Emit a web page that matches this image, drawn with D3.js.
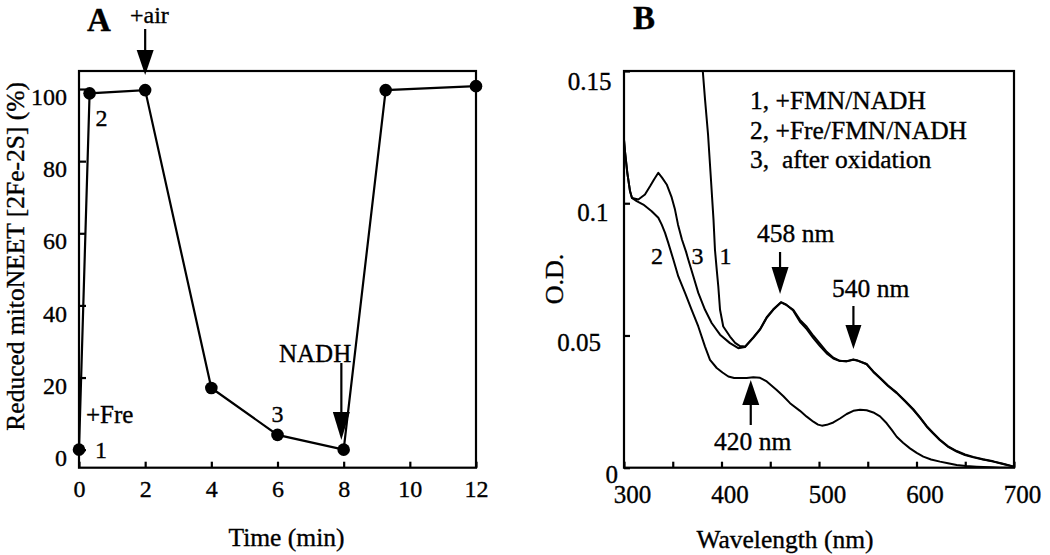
<!DOCTYPE html>
<html><head><meta charset="utf-8">
<script src="https://cdn.jsdelivr.net/npm/d3@7"></script>
<style>
html,body{margin:0;padding:0;background:#fff;}
svg{display:block;}
svg text{font-family:"Liberation Serif","Times New Roman",serif !important;fill:#000;stroke:#000;stroke-width:0.35px;}
</style></head>
<body>
<script>
// ---------- Panel A data ----------
const timeMin = [0, 0.32, 2, 4, 6, 8, 9.27, 12];
const reducedPct = [0, 98.8, 99.7, 17.1, 4.1, 0, 99.7, 100.8];
const pointLabels = [{i:0, t:"1"}, {i:1, t:"2"}, {i:4, t:"3"}];
const xTicksA = [0, 2, 4, 6, 8, 10, 12];
const yTicksA = [0, 20, 40, 60, 80, 100];

// ---------- Panel B data ----------
const curve1 = [[380.5,0.1514],[383.1,0.1393],[386.2,0.126],[389.2,0.1089],[391.8,0.0938],[393.3,0.0824],[395.1,0.0749],[396.7,0.0686],[398.5,0.0597],[401.8,0.0534],[408.7,0.0496],[414,0.0472],[418.9,0.046],[424.1,0.0458],[432.6,0.0493],[439.5,0.0524],[446.4,0.0569],[453.1,0.0599],[461.0,0.0626],[466.2,0.0617],[473.6,0.0594],[480.5,0.0552],[487.4,0.0524],[494.2,0.049],[501.0,0.046],[507.9,0.0432],[514.7,0.0413],[521.5,0.0403],[528.4,0.0403],[535.2,0.0409],[540,0.0405],[548.9,0.0392],[555.7,0.0364],[562.6,0.034],[570.8,0.0311],[579.7,0.0284],[588.2,0.0253],[596.7,0.0221],[603.6,0.019],[610.5,0.0157],[616.9,0.0132],[623.8,0.0107],[632,0.0082],[641.2,0.0063],[649.7,0.005],[658.3,0.0041],[668.2,0.0032],[678.8,0.0024],[688.7,0.0015],[699.3,0.0005]];
const curve2 = [[300,0.124],[301,0.1196],[303.4,0.1115],[306.2,0.1045],[308.2,0.102],[313.0,0.1008],[319.8,0.0995],[328.4,0.097],[335.2,0.0945],[338.7,0.0919],[342.1,0.0888],[345.4,0.085],[350.6,0.0787],[355.7,0.0723],[362.6,0.0661],[369.4,0.0597],[376.2,0.0534],[383.1,0.0458],[388.2,0.0408],[395.1,0.0377],[401,0.036],[407.0,0.0345],[413,0.0339],[419.0,0.0339],[425.8,0.0339],[432.6,0.0342],[439.5,0.034],[446.4,0.0326],[456.6,0.0294],[463.5,0.027],[470.3,0.0244],[480.5,0.0215],[487.4,0.0193],[494.2,0.0174],[499,0.0163],[503,0.0159],[508,0.0162],[514.7,0.0171],[521.5,0.0186],[528.4,0.0203],[535.2,0.0215],[542.1,0.0219],[548.9,0.0217],[555.7,0.0209],[562.6,0.0194],[569.4,0.0168],[574.6,0.0143],[579.7,0.0117],[586.2,0.0094],[593.3,0.0073],[600.2,0.0056],[607.0,0.0042],[614.9,0.0031],[624.1,0.0023],[632.3,0.0017],[641.2,0.001],[650.8,0.0006],[661.7,0.0004],[675.4,0.0002],[685.6,0.0],[700,0.0]];
const curve3 = [[300,0.124],[301,0.1196],[303.4,0.1115],[306.2,0.1045],[308.2,0.102],[314.7,0.1014],[321.5,0.1033],[326.7,0.1064],[330.8,0.109],[335.2,0.1115],[339.0,0.1097],[343.8,0.1071],[348.9,0.1022],[352.3,0.0976],[355.4,0.0919],[359.5,0.0862],[363.6,0.0817],[365.9,0.0787],[371.1,0.0724],[376.2,0.0661],[383.1,0.0597],[389.9,0.0547],[398.5,0.0503],[408.7,0.0471],[417.2,0.0452],[424.1,0.0456],[432.6,0.0491],[439.5,0.0522],[446.4,0.0567],[453.1,0.0597],[461.0,0.0625],[466.2,0.0616],[473.6,0.0597],[480.5,0.0559],[487.4,0.0533],[494.2,0.0499],[501.0,0.0469],[507.9,0.0438],[514.7,0.0416],[521.5,0.0404],[528.4,0.0402],[535.2,0.0408],[540,0.0404],[548.9,0.0391],[555.7,0.0362],[562.6,0.0338],[570.8,0.0309],[579.7,0.0282],[588.2,0.0251],[596.7,0.0219],[603.6,0.0188],[610.5,0.0155],[616.9,0.013],[623.8,0.0105],[632,0.008],[641.2,0.0061],[649.7,0.0048],[658.3,0.0039],[668.2,0.0031],[678.8,0.0023],[688.7,0.0014],[699.3,0.0004]];
const legendLines = ["1, +FMN/NADH", "2, +Fre/FMN/NADH", "3,  after oxidation"];
const xTicksB = [300, 400, 500, 600, 700];
const xMinorB = [350, 450, 550, 650];
const yTicksB = [0, 0.05, 0.1, 0.15];
const yTickLabelsB = ["0", "0.05", "0.1", "0.15"];

const W = 1050, H = 555;
const svg = d3.select("body").append("svg").attr("width", W).attr("height", H);

function arrowDown(g, x, y0, yHead, yTip, hw) {
  g.append("line").attr("x1", x).attr("x2", x).attr("y1", y0).attr("y2", yHead + 1)
    .attr("stroke", "#000").attr("stroke-width", 2.2);
  g.append("path").attr("d", `M${x-hw},${yHead}L${x+hw},${yHead}L${x},${yTip}Z`).attr("fill", "#000");
}
function cleanAxis(ax, size) {
  ax.attr("font-family", null).attr("font-size", null);
  ax.select(".domain").remove();
  ax.selectAll("line").attr("stroke-width", 2.2);
  ax.selectAll("text").style("font-size", size);
}

// ================= Panel A =================
const xA = d3.scaleLinear().domain([0, 12]).range([79, 476]);
const yA = d3.scaleLinear().domain([-5, 105]).range([467.7, 71]);
const gA = svg.append("g");

gA.append("rect").attr("x", xA(0)).attr("y", yA(105)).attr("width", xA(12) - xA(0))
  .attr("height", yA(-5) - yA(105)).attr("fill", "none").attr("stroke", "#000").attr("stroke-width", 2.2);

const axA_x = gA.append("g").attr("transform", `translate(0,${yA(-5)})`)
  .call(d3.axisBottom(xA).tickValues(xTicksA).tickSize(-6).tickPadding(12).tickFormat(d3.format("d")));
cleanAxis(axA_x, "24px");

const axA_y = gA.append("g").attr("transform", `translate(${xA(0)},0)`)
  .call(d3.axisLeft(yA).tickValues(yTicksA).tickSize(-7).tickPadding(12).tickFormat(d3.format("d")));
cleanAxis(axA_y, "24px");
axA_y.selectAll("text").attr("y", 8);

const ptsA = timeMin.map((t, i) => [t, reducedPct[i]]);
gA.append("path").datum(ptsA)
  .attr("d", d3.line().x(d => xA(d[0])).y(d => yA(d[1])))
  .attr("fill", "none").attr("stroke", "#000").attr("stroke-width", 2.2);
gA.selectAll("circle.pt").data(ptsA).enter().append("circle")
  .attr("cx", d => xA(d[0])).attr("cy", d => yA(d[1])).attr("r", 6.3).attr("fill", "#000");

const lblOff = {0: [16, 8], 1: [6, 33], 4: [-6, -13]};
pointLabels.forEach(p => {
  gA.append("text").attr("x", xA(timeMin[p.i]) + lblOff[p.i][0]).attr("y", yA(reducedPct[p.i]) + lblOff[p.i][1])
    .style("font-size", "24px").text(p.t);
});
gA.append("text").attr("x", 86).attr("y", 423).style("font-size", "25px").text("+Fre");
gA.append("text").attr("x", 87).attr("y", 31).style("font-size", "33px").style("font-weight", "bold").text("A");
gA.append("text").attr("x", 130).attr("y", 22.5).style("font-size", "24px").text("+air");
arrowDown(gA, xA(2), 29, 50, 75, 8.5);
gA.append("text").attr("x", 279).attr("y", 361.5).style("font-size", "25px").text("NADH");
arrowDown(gA, xA(7.93), 363, 412, 440, 8.5);

gA.append("text").attr("x", (xA(0) + xA(12)) / 2 + 9).attr("y", 546).attr("text-anchor", "middle")
  .style("font-size", "25.5px").text("Time (min)");
gA.append("text").attr("transform", `translate(24,${(yA(-5) + yA(105)) / 2 - 13}) rotate(-90)`)
  .attr("text-anchor", "middle").style("font-size", "25.5px").text("Reduced mitoNEET [2Fe-2S] (%)");

// ================= Panel B =================
const xB = d3.scaleLinear().domain([300, 700]).range([624, 1014]);
const yB = d3.scaleLinear().domain([0, 0.15]).range([467.7, 71]);
const gB = svg.append("g");

gB.append("defs").append("clipPath").attr("id", "clipB").append("rect")
  .attr("x", xB(300)).attr("y", yB(0.15)).attr("width", xB(700) - xB(300)).attr("height", yB(0) - yB(0.15));

gB.append("rect").attr("x", xB(300)).attr("y", yB(0.15)).attr("width", xB(700) - xB(300))
  .attr("height", yB(0) - yB(0.15)).attr("fill", "none").attr("stroke", "#000").attr("stroke-width", 2.2);

const axB_x = gB.append("g").attr("transform", `translate(0,${yB(0)})`)
  .call(d3.axisBottom(xB).tickValues(xTicksB).tickSize(-6).tickPadding(18).tickFormat(d3.format("d")));
cleanAxis(axB_x, "25px");
axB_x.selectAll("text").attr("dx", 8);
const axB_xm = gB.append("g").attr("transform", `translate(0,${yB(0)})`)
  .call(d3.axisBottom(xB).tickValues(xMinorB).tickSize(-6).tickFormat(""));
cleanAxis(axB_xm, "25px");

const yLblShift = {"0": [-6, 6.5], "0.05": [-23, 7.5], "0.1": [-15.5, 9.5], "0.15": [-12.5, 10.5]};
const axB_y = gB.append("g").attr("transform", `translate(${xB(300)},0)`)
  .call(d3.axisLeft(yB).tickValues(yTicksB).tickSize(-6).tickPadding(0)
    .tickFormat((d, i) => yTickLabelsB[i]));
cleanAxis(axB_y, "25px");
axB_y.selectAll("text")
  .attr("x", function(d, i) { return yLblShift[yTickLabelsB[i]][0]; })
  .attr("y", function(d, i) { return yLblShift[yTickLabelsB[i]][1]; });

const lineB = d3.line().x(d => xB(d[0])).y(d => yB(d[1])).curve(d3.curveLinear);
const curveG = gB.append("g").attr("clip-path", "url(#clipB)");
[curve1, curve2, curve3].forEach(c => {
  curveG.append("path").datum(c).attr("d", lineB).attr("fill", "none")
    .attr("stroke", "#000").attr("stroke-width", 2).attr("stroke-linejoin", "round");
});

gB.append("text").attr("x", 633).attr("y", 29).style("font-size", "33px").style("font-weight", "bold").text("B");
legendLines.forEach((t, i) => {
  gB.append("text").attr("x", 750).attr("y", 109 + i * 29.5).style("font-size", "25.5px")
    .style("white-space", "pre").attr("xml:space", "preserve").text(t);
});
gB.append("text").attr("x", 651).attr("y", 263.5).style("font-size", "24px").text("2");
gB.append("text").attr("x", 691.5).attr("y", 263.5).style("font-size", "24px").text("3");
gB.append("text").attr("x", 719.5).attr("y", 263.5).style("font-size", "24px").text("1");

gB.append("text").attr("x", 757).attr("y", 241.5).style("font-size", "25.5px").text("458 nm");
arrowDown(gB, xB(458) + 2, 252, 267, 294, 8.5);
gB.append("text").attr("x", 832).attr("y", 297).style("font-size", "25.5px").text("540 nm");
arrowDown(gB, xB(535.3), 306, 325, 349, 8);
gB.append("text").attr("x", 714).attr("y", 450).style("font-size", "25.5px").text("420 nm");
gB.append("line").attr("x1", xB(430)).attr("x2", xB(430)).attr("y1", 425).attr("y2", 404)
  .attr("stroke", "#000").attr("stroke-width", 2.2);
gB.append("path").attr("d", `M${xB(430)-8.5},405L${xB(430)+8.5},405L${xB(430)},380Z`).attr("fill", "#000");

gB.append("text").attr("x", (xB(300) + xB(700)) / 2 - 34).attr("y", 548).attr("text-anchor", "middle")
  .style("font-size", "25.5px").text("Wavelength (nm)");
gB.append("text").attr("transform", `translate(563,279) rotate(-90)`).attr("text-anchor", "middle")
  .style("font-size", "26px").text("O.D.");
</script>
</body></html>
